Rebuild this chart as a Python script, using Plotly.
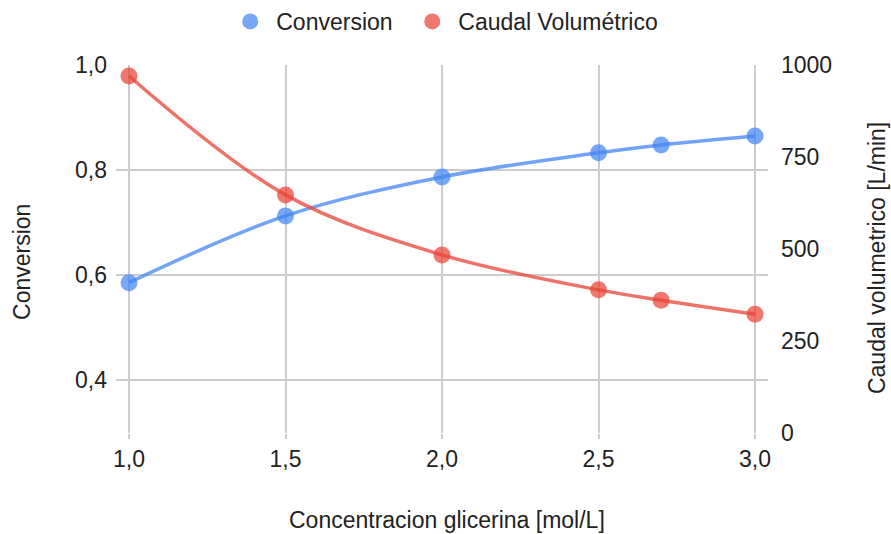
import plotly.graph_objects as go

concentracion = [1.0, 1.5, 2.0, 2.5, 2.7, 3.0]
conversion = [0.586, 0.713, 0.787, 0.833, 0.848, 0.865]
caudal = [970, 647, 484, 389, 361, 323]

x_ticks = [1.0, 1.5, 2.0, 2.5, 3.0]
x_labels = ["1,0", "1,5", "2,0", "2,5", "3,0"]
y1_ticks = [0.4, 0.6, 0.8, 1.0]
y1_labels = ["0,4", "0,6", "0,8", "1,0"]
y2_ticks = [0, 250, 500, 750, 1000]

x_title = "Concentracion glicerina [mol/L]"
y1_title = "Conversion"
y2_title = "Caudal volumetrico [L/min]"

font = "Liberation Sans, Arial, sans-serif"
fs = 23
txt = "#222222"
blue_l = "rgba(66,133,244,0.75)"
blue_m = "rgba(66,133,244,0.72)"
red_l = "rgba(234,67,53,0.75)"
red_m = "rgba(234,67,53,0.72)"

fig = go.Figure()
fig.add_trace(go.Scatter(
    x=concentracion, y=conversion, name="Conversion", mode="lines+markers",
    line=dict(color=blue_l, width=3.5, shape="spline", smoothing=1.0),
    marker=dict(color=blue_m, size=17), showlegend=False,
    cliponaxis=False, yaxis="y"))
fig.add_trace(go.Scatter(
    x=concentracion, y=caudal, name="Caudal Volumétrico", mode="lines+markers",
    line=dict(color=red_l, width=3.5, shape="spline", smoothing=1.0),
    marker=dict(color=red_m, size=17), showlegend=False,
    cliponaxis=False, yaxis="y2"))
# legend entries (markers only, as in the reference)
fig.add_trace(go.Scatter(x=[None], y=[None], name="Conversion", mode="markers",
                         marker=dict(color=blue_m, size=22), legend="legend"))
fig.add_trace(go.Scatter(x=[None], y=[None], name="Caudal Volumétrico", mode="markers",
                         marker=dict(color=red_m, size=22), yaxis="y2", legend="legend2"))

ext = 13 / 313.0
leg_common = dict(orientation="h", xanchor="left", y=1.0, yanchor="top",
                  yref="container", font=dict(size=fs, color=txt),
                  itemsizing="trace", itemwidth=42, bgcolor="rgba(0,0,0,0)")
fig.update_layout(
    width=891, height=534,
    margin=dict(l=116, r=123, t=65, b=101),
    paper_bgcolor="white", plot_bgcolor="white",
    font=dict(family=font, size=fs, color=txt),
    showlegend=True,
    legend=dict(x=0.1660, **leg_common),
    legend2=dict(x=0.4452, **leg_common),
    xaxis=dict(range=[1.0 - ext, 3.0 + ext], tickvals=x_ticks, ticktext=x_labels,
               showgrid=True, gridcolor="#cccccc", gridwidth=1.5, zeroline=False,
               ticks="outside", ticklen=5, tickcolor="#cccccc", tickwidth=1.5,
               showline=False, tickfont=dict(size=fs), automargin=False),
    yaxis=dict(range=[0.3, 1.0], tickvals=y1_ticks, ticktext=y1_labels,
               showgrid=True, gridcolor="#cccccc", gridwidth=1.5, zeroline=False,
               showline=False, tickfont=dict(size=fs), ticklabelstandoff=8,
               automargin=False),
    yaxis2=dict(range=[0, 1000], tickvals=y2_ticks, overlaying="y", side="right",
                showgrid=False, zeroline=False, showline=False,
                tickfont=dict(size=fs), ticklabelstandoff=12, automargin=False),
    annotations=[
        dict(text=x_title, xref="paper", yref="paper", x=0.5077, y=-0.2364,
             xanchor="center", yanchor="middle", showarrow=False,
             font=dict(size=fs, color=txt)),
        dict(text=y1_title, xref="paper", yref="paper", x=-0.1442, y=0.4647,
             xanchor="center", yanchor="middle", showarrow=False, textangle=-90,
             font=dict(size=fs, color=txt)),
        dict(text=y2_title, xref="paper", yref="paper", x=1.1672, y=0.4755,
             xanchor="center", yanchor="middle", showarrow=False, textangle=-90,
             font=dict(size=fs, color=txt)),
    ],
)

fig.write_html("out.html")
